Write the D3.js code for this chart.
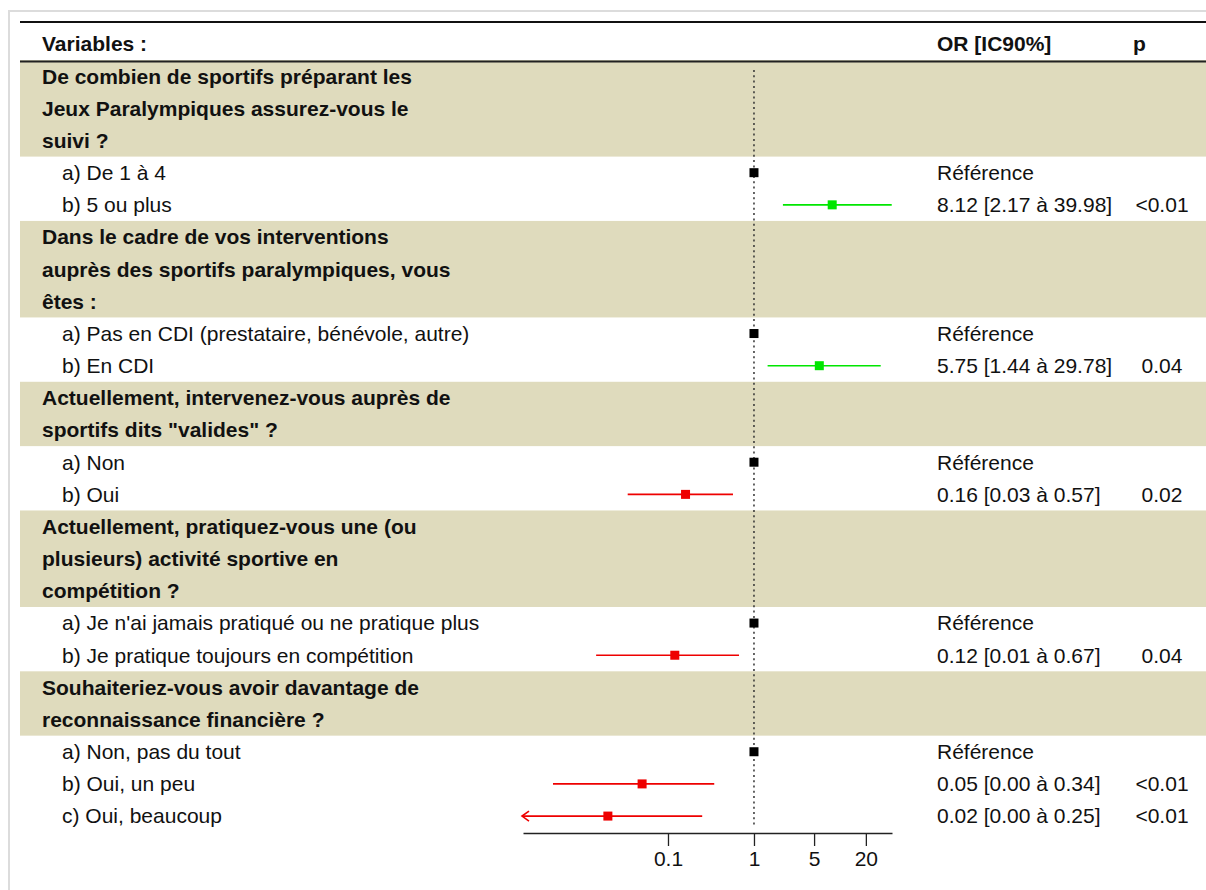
<!DOCTYPE html>
<html><head><meta charset="utf-8">
<script src="https://cdn.jsdelivr.net/npm/d3@7"></script>
<style>
html,body{margin:0;padding:0;background:#fff;}
svg{display:block;font-family:"Liberation Sans",Arial,Helvetica,sans-serif;}
</style></head>
<body>
<svg id="chart" width="1206" height="890"></svg>
<script>
// ---- data ----
const groupTitles = [
  ["De combien de sportifs préparant les", "Jeux Paralympiques assurez-vous le", "suivi ?"],
  ["Dans le cadre de vos interventions", "auprès des sportifs paralympiques, vous", "êtes :"],
  ["Actuellement, intervenez-vous auprès de", "sportifs dits \"valides\" ?"],
  ["Actuellement, pratiquez-vous une (ou", "plusieurs) activité sportive en", "compétition ?"],
  ["Souhaiteriez-vous avoir davantage de", "reconnaissance financière ?"]
];
const levelLabels = [
  ["a) De 1 à 4", "b) 5 ou plus"],
  ["a) Pas en CDI (prestataire, bénévole, autre)", "b) En CDI"],
  ["a) Non", "b) Oui"],
  ["a) Je n'ai jamais pratiqué ou ne pratique plus", "b) Je pratique toujours en compétition"],
  ["a) Non, pas du tout", "b) Oui, un peu", "c) Oui, beaucoup"]
];
const orMean  = [[1, 8.12], [1, 5.75], [1, 0.16], [1, 0.12], [1, 0.05, 0.02]];
const ciLower = [[null, 2.17], [null, 1.44], [null, 0.034], [null, 0.0146], [null, 0.0046, 0.0008]];
const ciUpper = [[null, 39.98], [null, 29.78], [null, 0.57], [null, 0.67], [null, 0.345, 0.25]];
const orText  = [
  ["Référence", "8.12 [2.17 à 39.98]"],
  ["Référence", "5.75 [1.44 à 29.78]"],
  ["Référence", "0.16 [0.03 à 0.57]"],
  ["Référence", "0.12 [0.01 à 0.67]"],
  ["Référence", "0.05 [0.00 à 0.34]", "0.02 [0.00 à 0.25]"]
];
const pText = [["", "<0.01"], ["", "0.04"], ["", "0.02"], ["", "0.04"], ["", "<0.01", "<0.01"]];
const headerLabels = ["Variables :", "OR [IC90%]", "p"];
const tickValues = [0.1, 1, 5, 20];

// ---- build rows ----
const rows = [];
groupTitles.forEach((g, gi) => {
  g.forEach(t => rows.push({type: "group", label: t, gi}));
  levelLabels[gi].forEach((l, li) => rows.push({
    type: "level", label: l, gi,
    mean: orMean[gi][li], lo: ciLower[gi][li], hi: ciUpper[gi][li],
    orT: orText[gi][li], pT: pText[gi][li], ref: li === 0
  }));
});

const FS = 21;
const svg = d3.select("#chart");
const rowH = 32.17;
const y = d3.scaleLinear().domain([0, rows.length]).range([44, 44 + rows.length * rowH]);
const x = d3.scaleLog().domain([Math.pow(10, -2.686), Math.pow(10, 1.605)]).range([523, 892]);
const GREEN = "#00e600", RED = "#ee0000";

// frame
svg.append("path").attr("d", "M9,890 V11 H1206").attr("fill", "none").attr("stroke", "#dcdcdc").attr("stroke-width", 2);

// beige bands
const bands = [];
rows.forEach((r, i) => {
  if (r.type !== "group") return;
  const last = bands[bands.length - 1];
  if (last && last.end === i) last.end = i + 1; else bands.push({start: i, end: i + 1});
});
svg.selectAll("rect.band").data(bands).join("rect").attr("class", "band")
  .attr("x", 20).attr("width", 1186)
  .attr("y", d => y(d.start + 1) - rowH / 2).attr("height", d => (d.end - d.start) * rowH)
  .attr("fill", "#dfdbbd");

// header lines
svg.append("line").attr("x1", 20).attr("x2", 1206).attr("y1", 22).attr("y2", 22).attr("stroke", "#111").attr("stroke-width", 2);
svg.append("line").attr("x1", 20).attr("x2", 1206).attr("y1", 61.5).attr("y2", 61.5).attr("stroke", "#222").attr("stroke-width", 2);

// header text
const hx = [42, 937, 1133];
svg.selectAll("text.hdr").data(headerLabels).join("text").attr("class", "hdr")
  .attr("x", (d, i) => hx[i]).attr("y", y(0)).attr("dy", "0.35em")
  .attr("font-size", FS).attr("font-weight", "bold").attr("fill", "#111").text(d => d);

// row labels
svg.selectAll("text.lbl").data(rows).join("text").attr("class", "lbl")
  .attr("x", d => d.type === "group" ? 42 : 62)
  .attr("y", (d, i) => y(i + 1)).attr("dy", "0.35em")
  .attr("font-size", FS).attr("font-weight", d => d.type === "group" ? "bold" : "normal")
  .attr("fill", "#111").text(d => d.label);

// OR text and p text
const lv = rows.map((r, i) => ({...r, i})).filter(r => r.type === "level");
svg.selectAll("text.ort").data(lv).join("text").attr("class", "ort")
  .attr("x", 937).attr("y", d => y(d.i + 1)).attr("dy", "0.35em")
  .attr("font-size", FS).attr("fill", "#111").text(d => d.orT);
svg.selectAll("text.pt").data(lv).join("text").attr("class", "pt")
  .attr("x", 1162).attr("y", d => y(d.i + 1)).attr("dy", "0.35em").attr("text-anchor", "middle")
  .attr("font-size", FS).attr("fill", "#111").text(d => d.pT);

// reference line
svg.append("line").attr("x1", x(1)).attr("x2", x(1)).attr("y1", 70).attr("y2", 828)
  .attr("stroke", "#333").attr("stroke-width", 1.5).attr("stroke-dasharray", "2,3.3");

// CIs
const ci = lv.filter(d => !d.ref);
const col = d => d.mean > 1 ? GREEN : RED;
const xMin = x.domain()[0];
ci.forEach(d => {
  const cy = y(d.i + 1);
  const clipped = d.lo < xMin;
  const x0 = clipped ? x.range()[0] - 1 : x(d.lo);
  svg.append("line").attr("x1", x0).attr("x2", x(d.hi)).attr("y1", cy).attr("y2", cy)
    .attr("stroke", col(d)).attr("stroke-width", 1.6);
  if (clipped) {
    svg.append("path").attr("d", `M${x0 + 7},${cy - 5} L${x0},${cy} L${x0 + 7},${cy + 5}`)
      .attr("fill", "none").attr("stroke", col(d)).attr("stroke-width", 1.6);
  }
});
// boxes
const bs = 9;
svg.selectAll("rect.box").data(lv).join("rect").attr("class", "box")
  .attr("x", d => x(d.mean) - bs / 2).attr("y", d => y(d.i + 1) - bs / 2)
  .attr("width", bs).attr("height", bs)
  .attr("fill", d => d.ref ? "#000" : col(d));

// axis
const axis = svg.append("g").attr("transform", "translate(0,833)")
  .call(d3.axisBottom(x).tickValues(tickValues).tickFormat(d => String(d)).tickSizeOuter(0).tickSizeInner(13).tickPadding(5));
axis.select(".domain").attr("stroke", "#222").attr("stroke-width", 1.3);
axis.selectAll(".tick line").attr("stroke", "#222").attr("stroke-width", 1.3);
axis.selectAll(".tick text").attr("font-size", FS).attr("fill", "#111")
  .attr("font-family", "Liberation Sans, Arial, sans-serif");
</script>
</body></html>
